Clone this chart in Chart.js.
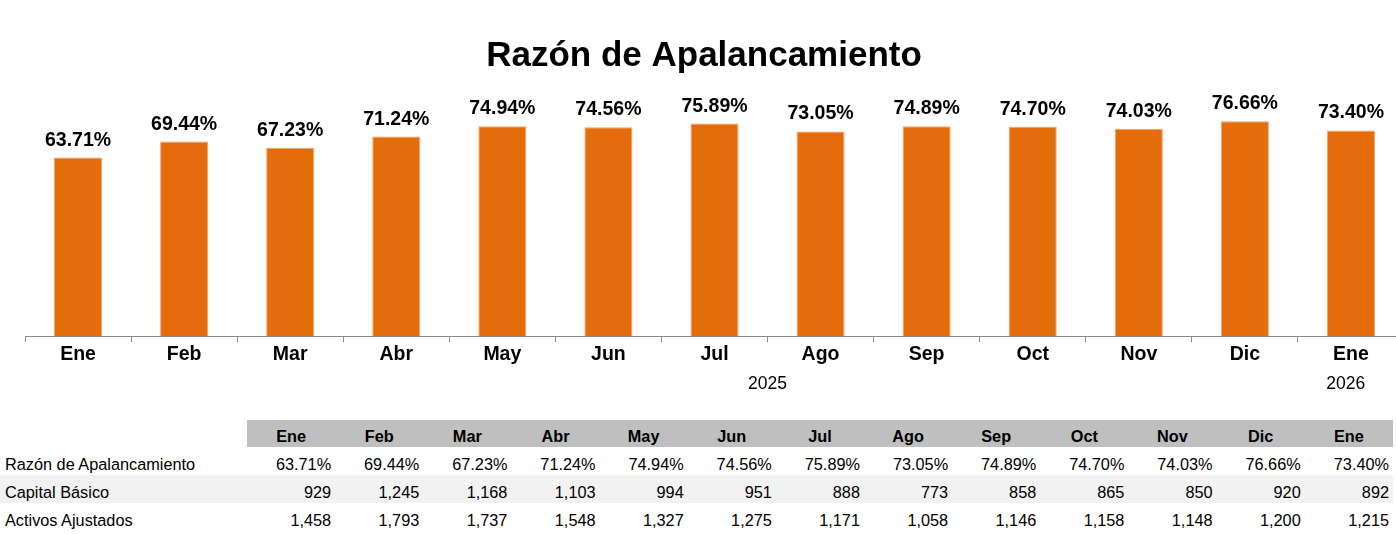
<!DOCTYPE html>
<html>
<head>
<meta charset="utf-8">
<script src="https://cdn.jsdelivr.net/npm/chart.js@4.4.1/dist/chart.umd.min.js"></script>
<style>
  html, body { margin: 0; padding: 0; background: #fff; overflow: hidden; width: 1396px; height: 534px; }
  .chart-box { position: absolute; left: 0; top: 0; width: 1404px; height: 400px; }
  table { position: absolute; left: 0; top: 420px; width: 1393px; border-collapse: collapse; table-layout: fixed;
          font-family: "Liberation Sans", Arial, sans-serif; font-size: 16.3px; color: #000; }
  th, td { padding: 6px 4px 0 4px; white-space: nowrap; vertical-align: middle; }
  th { background: #BFBFBF; font-weight: bold; text-align: center; }
  th.blank { background: #fff; }
  td { text-align: right; }
  td.name { text-align: left; padding-left: 5px; }
  tr.head { height: 27px; }
  tr.row { height: 28px; }
  tr.shade td { background: #F2F2F2; }
</style>
</head>
<body>
<div class="chart-box"><canvas id="myChart"></canvas></div>
<table id="dataTable">
  <colgroup id="cols"></colgroup>
  <tbody id="tbody"></tbody>
</table>
<script>
//chart data
const months = ["Ene", "Feb", "Mar", "Abr", "May", "Jun", "Jul", "Ago", "Sep", "Oct", "Nov", "Dic", "Ene"];
const ratio = [63.71, 69.44, 67.23, 71.24, 74.94, 74.56, 75.89, 73.05, 74.89, 74.70, 74.03, 76.66, 73.40];
const capital = [929, 1245, 1168, 1103, 994, 951, 888, 773, 858, 865, 850, 920, 892];
const activos = [1458, 1793, 1737, 1548, 1327, 1275, 1171, 1058, 1146, 1158, 1148, 1200, 1215];
const yearLabels = ["2025", "2026"];
const yearAt = [6.5, 11.95]; //category index under which each year sits

const font = "'Liberation Sans', Arial, sans-serif";

//labels, years and title drawn on the canvas
const extras = {
  id: "extras",
  afterDatasetsDraw(chart) {
    const ctx = chart.ctx;
    const meta = chart.getDatasetMeta(0);
    ctx.save();
    ctx.fillStyle = "#000";
    ctx.textAlign = "center";
    ctx.textBaseline = "alphabetic";

    ctx.font = "bold 19.5px " + font;
    meta.data.forEach((bar, i) => {
      ctx.fillText(ratio[i].toFixed(2) + "%", bar.x, bar.y - 12);
    });

    ctx.font = "17.5px " + font;
    yearLabels.forEach((y, i) => {
      ctx.fillText(y, chart.scales.x.getPixelForValue(yearAt[i]), 388.5);
    });

    ctx.font = "bold 35px " + font;
    ctx.fillText("Razón de Apalancamiento", 704, 66);
    ctx.restore();
  }
};

const data = {
  labels: months,
  datasets: [
    {
      label: "Razón de Apalancamiento",
      data: ratio,
      backgroundColor: "#E46C0A",
      borderColor: "#F2A46A",
      borderWidth: 1,
      categoryPercentage: 1,
      barPercentage: 0.453,
    },
  ],
};

const config = {
  type: "bar",
  data: data,
  options: {
    responsive: true,
    maintainAspectRatio: false,
    animation: false,
    layout: { padding: { left: 25, right: 0, top: 56, bottom: 0 } },
    plugins: {
      legend: { display: false },
      tooltip: { enabled: false },
    },
    scales: {
      x: {
        grid: {
          offset: true,
          drawOnChartArea: false,
          drawTicks: true,
          tickLength: 6,
          color: "#8C8C8C",
        },
        border: { display: true, color: "#8C8C8C", width: 1 },
        ticks: {
          color: "#000",
          padding: 1,
          maxRotation: 0,
          autoSkip: false,
          font: { family: font, size: 19.5, weight: "bold" },
        },
        afterFit: (s) => { s.height = 64; },
      },
      y: {
        display: false,
        min: 0,
        max: 100,
      },
    },
  },
  plugins: [extras],
};

const myChart = new Chart(document.getElementById("myChart"), config);

//table below the chart
const cols = document.getElementById("cols");
cols.innerHTML = `<col style="width:247px">` + months.map(() => `<col>`).join("");

const fmt = (n) => n.toLocaleString("en-US");
const rows = [
  { name: "Razón de Apalancamiento", values: ratio.map((v) => v.toFixed(2) + "%"), cls: "" },
  { name: "Capital Básico", values: capital.map(fmt), cls: "shade" },
  { name: "Activos Ajustados", values: activos.map(fmt), cls: "" },
];

let html = `<tr class="head"><th class="blank"></th>` + months.map((m) => `<th>${m}</th>`).join("") + `</tr>`;
rows.forEach((r) => {
  html += `<tr class="row ${r.cls}"><td class="name">${r.name}</td>` +
    r.values.map((v) => `<td>${v}</td>`).join("") + `</tr>`;
});
document.getElementById("tbody").innerHTML = html;
</script>
</body>
</html>
